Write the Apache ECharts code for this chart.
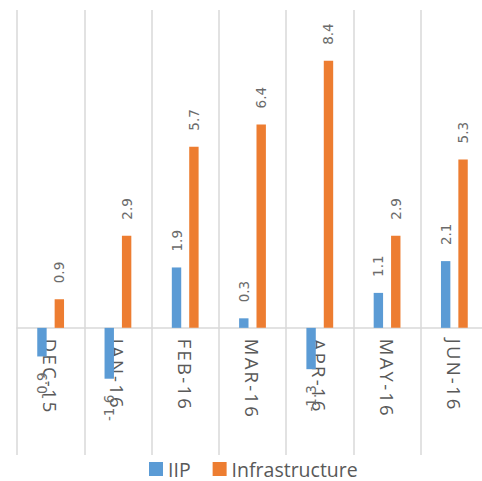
<!DOCTYPE html>
<html><head><meta charset="utf-8">
<script src="https://cdn.jsdelivr.net/npm/echarts@6/dist/echarts.min.js"></script>
<style>html,body{margin:0;padding:0;background:#fff}#c{width:482px;height:481px}</style>
</head><body><div id="c"></div>
<script>
const categories = ['DEC-15','JAN-16','FEB-16','MAR-16','APR-16','MAY-16','JUN-16'];
const iipValues = [-0.9, -1.6, 1.9, 0.3, -1.3, 1.1, 2.1];
const infrastructureValues = [0.9, 2.9, 5.7, 6.4, 8.4, 2.9, 5.3];
const seriesNames = ['IIP', 'Infrastructure'];
const valueMin = -4, valueMax = 10;

const colors = ['#5B9BD5', '#ED7D31'];
const gridTop = 10, gridBottom = 26, chartH = 481;
const gridH = chartH - gridTop - gridBottom;
// move the category axis up to the zero line
const zeroOffset = -gridH * (0 - valueMin) / (valueMax - valueMin);

function withLabels(values) {
  return values.map(v => ({
    value: v,
    label: v >= 0 ? { position: 'top', align: 'left' } : { position: 'bottom', align: 'right' }
  }));
}

const labelCommon = {
  show: true,
  rotate: 90,
  verticalAlign: 'middle',
  distance: 16,
  color: '#6b6b6b',
  fontFamily: 'DejaVu Sans',
  fontSize: 13.5,
  formatter: p => Number(p.value).toFixed(1)
};

const dom = document.getElementById('c');
const chart = echarts.init(dom, null, { renderer: 'svg' });
chart.setOption({
  animation: false,
  backgroundColor: '#ffffff',
  grid: { left: 17, right: -6, top: gridTop, bottom: gridBottom, containLabel: false, outerBoundsMode: 'none' },
  legend: {
    data: seriesNames,
    left: 149,
    top: 459,
    padding: 0,
    itemWidth: 14,
    itemHeight: 14,
    itemGap: 22,
    icon: 'rect',
    textStyle: { color: '#595959', fontFamily: 'Open Sans', fontSize: 19.5, lineHeight: 20 }
  },
  xAxis: {
    type: 'category',
    data: categories,
    position: 'bottom',
    offset: zeroOffset,
    axisLine: { show: true, onZero: false, lineStyle: { color: '#d9d9d9', width: 1.5 } },
    axisTick: { show: false },
    axisLabel: {
      rotate: -90,
      margin: 11,
      interval: 0,
      color: '#595959',
      fontFamily: 'Open Sans',
      fontSize: 18.5
    },
    splitLine: { show: true, interval: 0, lineStyle: { color: '#d9d9d9', width: 1.5 } }
  },
  yAxis: {
    type: 'value',
    min: valueMin,
    max: valueMax,
    show: false
  },
  series: [
    {
      name: seriesNames[0],
      type: 'bar',
      data: withLabels(iipValues),
      barWidth: 9.4,
      barGap: '85%',
      itemStyle: { color: colors[0] },
      label: labelCommon
    },
    {
      name: seriesNames[1],
      type: 'bar',
      data: withLabels(infrastructureValues),
      barWidth: 9.4,
      barGap: '85%',
      itemStyle: { color: colors[1] },
      label: labelCommon
    }
  ]
});

const catSet = new Set(categories);
dom.querySelectorAll('text').forEach(t => {
  if (catSet.has(t.textContent)) {
    t.setAttribute('letter-spacing', '2.2px');
    t.style.letterSpacing = '2.2px';
  }
});
</script>
</body></html>
